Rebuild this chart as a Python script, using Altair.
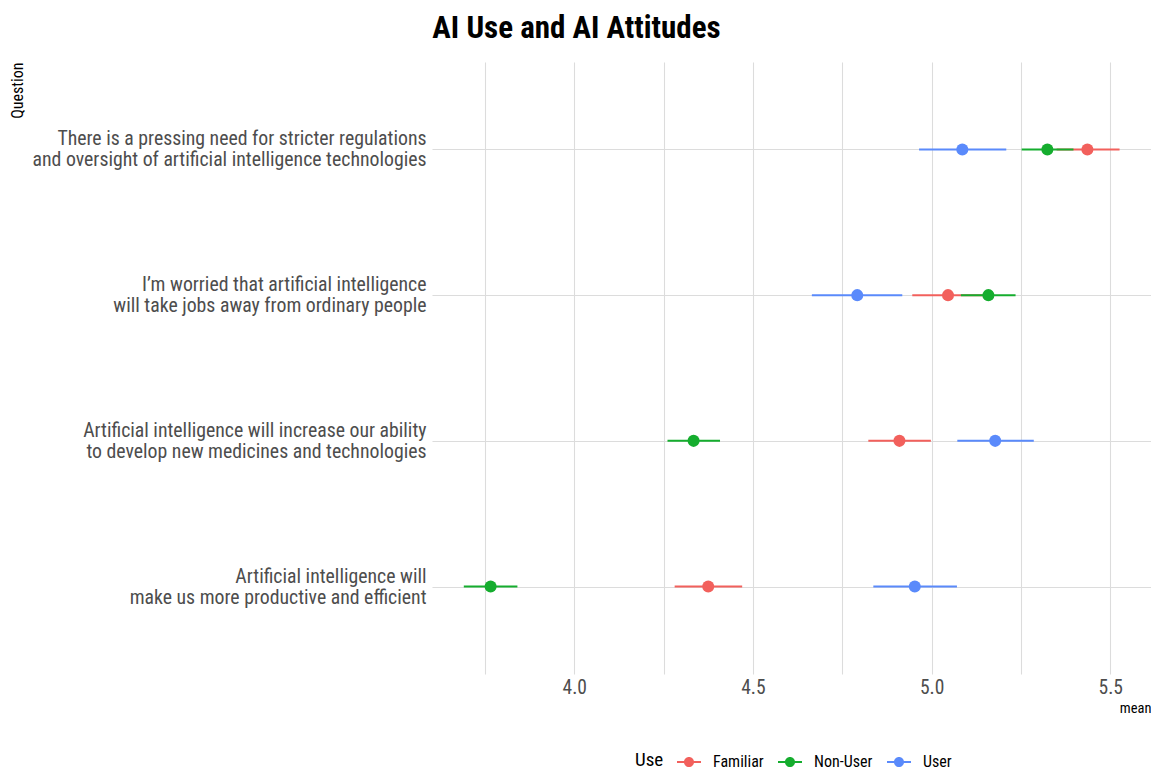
import altair as alt
import pandas as pd

questions = [
    "There is a pressing need for stricter regulations|and oversight of artificial intelligence technologies",
    "I\u2019m worried that artificial intelligence|will take jobs away from ordinary people",
    "Artificial intelligence will increase our ability|to develop new medicines and technologies",
    "Artificial intelligence will|make us more productive and efficient",
]
groups = ["Familiar", "Non-User", "User"]
colors = ["#F2605C", "#15AD2E", "#5A8AFB"]

# means[q][g], lows, highs  (order of groups: Familiar, Non-User, User)
means = [
    [5.436, 5.324, 5.086],
    [5.046, 5.159, 4.792],
    [4.910, 4.334, 5.178],
    [4.375, 3.766, 4.953],
]
lows = [
    [5.350, 5.252, 4.965],
    [4.946, 5.082, 4.665],
    [4.823, 4.261, 5.072],
    [4.281, 3.691, 4.837],
]
highs = [
    [5.526, 5.397, 5.209],
    [5.146, 5.235, 4.918],
    [4.998, 4.408, 5.286],
    [4.470, 3.841, 5.071],
]
x_ticks = [3.75, 4.0, 4.25, 4.5, 4.75, 5.0, 5.25, 5.5]

rows = []
for qi, q in enumerate(questions):
    for gi, g in enumerate(groups):
        rows.append({"Question": q, "Use": g, "mean": means[qi][gi],
                     "lo": lows[qi][gi], "hi": highs[qi][gi]})
df = pd.DataFrame(rows)

FONT = "'Roboto Condensed', 'Liberation Sans Narrow', 'DejaVu Sans Condensed', Roboto, sans-serif"

xscale = alt.Scale(domain=[3.602, 5.614], nice=False, zero=False)
yscale = alt.Scale(type="point", padding=0.6)

xaxis = alt.Axis(
    title="mean", titleAnchor="end", titleFontSize=14.5, titleFontWeight="normal",
    titleColor="#000000", titlePadding=5,
    values=x_ticks,
    labelExpr="datum.value % 0.5 == 0 ? format(datum.value, '.1f') : ''",
    labelFontSize=19.5, labelColor="#4d4d4d", labelPadding=4,
    grid=True, gridColor="#dcdcdc", gridWidth=1.1,
    domain=False, ticks=False,
)
yaxis = alt.Axis(
    title="Question", titleFontSize=16, titleFontWeight="normal",
    titleColor="#000000", titleAngle=-90, titleX=-415, titleY=0,
    titleAlign="right", titleBaseline="middle",
    labelExpr="split(datum.label, '|')", labelFontSize=19.8, labelColor="#4d4d4d",
    labelLineHeight=21, labelOffset=-10.5, labelPadding=6, labelLimit=600,
    grid=True, gridColor="#dcdcdc", gridWidth=1.1,
    domain=False, ticks=False,
)

# legend symbol: a filled dot with a short line through it
sym = ("M-1,-0.085L-0.4,-0.085L-0.4,0.085L-1,0.085Z"
       "M0.4,-0.085L1,-0.085L1,0.085L0.4,0.085Z"
       "M0.42,0A0.42,0.42,0,1,1,-0.42,0A0.42,0.42,0,1,1,0.42,0Z")

legend = alt.Legend(
    title="Use", orient="none", legendX=203, legendY=688,
    direction="horizontal", titleOrient="left",
    titleFontSize=19, titleFontWeight="normal", titleColor="#000000", titlePadding=13,
    labelFontSize=16, labelColor="#000000", labelOffset=12, columnPadding=14,
    symbolType=sym, symbolSize=576, symbolStrokeWidth=0, symbolOpacity=1,
)

base = alt.Chart(df)

rules = base.mark_rule(strokeWidth=2).encode(
    x=alt.X("lo:Q", scale=xscale, axis=xaxis),
    x2="hi:Q",
    y=alt.Y("Question:N", sort=questions, scale=yscale, axis=yaxis),
    stroke=alt.Stroke("Use:N", scale=alt.Scale(domain=groups, range=colors), legend=legend),
)

points = base.mark_point(filled=True, size=145, opacity=1).encode(
    x=alt.X("mean:Q", scale=xscale),
    y=alt.Y("Question:N", sort=questions, scale=yscale),
    color=alt.Color("Use:N", scale=alt.Scale(domain=groups, range=colors), legend=legend),
)

chart = alt.layer(rules, points).properties(
    width=719,
    height=612,
    autosize=alt.AutoSizeParams(type="none"),
    padding={"left": 424, "top": 54, "right": 0, "bottom": 100},
    title=alt.TitleParams(
        "AI Use and AI Attitudes", fontSize=31, fontWeight="bold", font=FONT,
        color="#000000", anchor="middle", frame="group", dx=-215, offset=17,
    ),
).configure(font=FONT).configure_view(stroke=None)

chart.save("out.html", embed_options={"renderer": "svg", "actions": False})
